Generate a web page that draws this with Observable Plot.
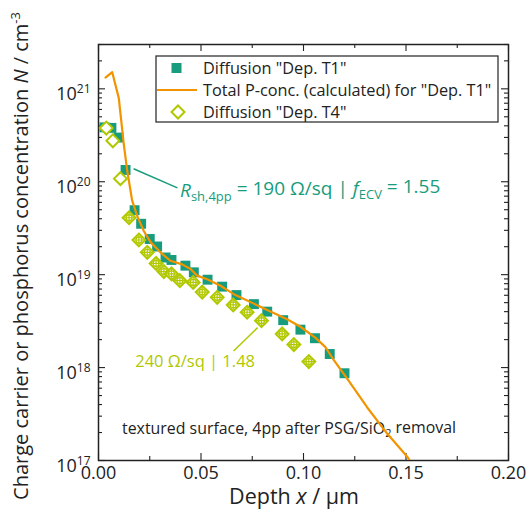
<!DOCTYPE html>
<html><head><meta charset="utf-8">
<script src="https://cdn.jsdelivr.net/npm/d3@7"></script>
<script src="https://cdn.jsdelivr.net/npm/@observablehq/plot@0.6"></script>
<style>body{margin:0;background:#fff}</style>
</head><body><div id="chart"></div>
<script>
// Diffusion "Dep. T1" (squares)
const depthT1 = [0.0029,0.0063,0.0098,0.0132,0.0176,0.0208,0.0250,0.0286,0.0327,0.0356,0.0424,0.0465,0.0532,0.0603,0.0673,0.0758,0.0823,0.0901,0.0985,0.1056,0.1128,0.1200];
const concT1  = [3.85e20,3.80e20,2.99e20,1.34e20,4.94e19,3.53e19,2.42e19,2.01e19,1.53e19,1.44e19,1.25e19,1.06e19,8.83e18,7.43e18,6.03e18,4.82e18,4.00e18,3.24e18,2.56e18,2.07e18,1.40e18,8.69e17];
// Diffusion "Dep. T4" (diamonds)
const depthT4 = [0.0038,0.0070,0.0107,0.0149,0.0197,0.0238,0.0281,0.0319,0.0356,0.0397,0.0462,0.0506,0.0579,0.0657,0.0725,0.0795,0.0896,0.0953,0.1026];
const concT4  = [3.78e20,2.76e20,1.08e20,4.10e19,2.36e19,1.74e19,1.32e19,1.08e19,1.02e19,8.61e18,8.26e18,6.49e18,5.70e18,4.72e18,3.94e18,3.20e18,2.30e18,1.77e18,1.16e18];
// Total P-conc. (calculated) for "Dep. T1"
const depthCalc = [0.0034,0.0067,0.0099,0.0123,0.0140,0.0164,0.0189,0.0221,0.0254,0.0302,0.0351,0.0408,0.0449,0.0481,0.0530,0.0595,0.0660,0.0823,0.0920,0.0985,0.1059,0.1107,0.1148,0.1213,0.1311,0.1408,0.1506,0.1530];
const concCalc  = [1.32e21,1.51e21,7.94e20,2.57e20,1.32e20,6.31e19,4.27e19,2.95e19,2.24e19,1.74e19,1.41e19,1.29e19,1.15e19,9.77e18,8.91e18,7.59e18,6.17e18,4.17e18,3.31e18,2.75e18,2.09e18,1.66e18,1.20e18,7.59e17,3.72e17,1.95e17,1.10e17,9.1e16];

const xTicks = [0, 0.05, 0.10, 0.15, 0.20];
const xMinor = [0.025, 0.075, 0.125, 0.175];
const yTicks = [1e17, 1e18, 1e19, 1e20, 1e21];
const yMinor = [];
for (let e = 17; e <= 21; e++) for (let m = 2; m <= 9; m++) { const v = m * 10 ** e; if (v <= 3e21) yMinor.push(v); }

const legendLabels = ['Diffusion "Dep. T1"', 'Total P-conc. (calculated) for "Dep. T1"', 'Diffusion "Dep. T4"'];
const noteLinks = [
  {x1: 0.0171, y1: 1.38e20, x2: 0.0385, y2: 8.6e19, c: "green"},
  {x1: 0.0776, y1: 2.69e18, x2: 0.0659, y2: 1.51e18, c: "lime"}
];

const GREEN = "#179c7d", ORANGE = "#f29400", LIME = "#b1c800", INK = "#222";
const W = 530, H = 511, ML = 98, MR = 22, MT = 44, MB = 51;
const FW = W - ML - MR, FH = H - MT - MB;
const MAJ = 7, MIN = 4;

const T1 = depthT1.map((x, i) => ({x, y: concT1[i]}));
const T4 = depthT4.map((x, i) => ({x, y: concT4[i], i}));
const CALC = depthCalc.map((x, i) => ({x, y: concCalc[i]}));

const tickStyle = {stroke: INK, strokeWidth: 1.1};
const plot = Plot.plot({
  width: W, height: H,
  marginLeft: ML, marginRight: MR, marginTop: MT, marginBottom: MB,
  style: {fontFamily: "'Open Sans', sans-serif", fontSize: "18px", background: "white", color: INK},
  x: {domain: [0, 0.2]},
  y: {type: "log", domain: [1e17, 3e21]},
  marks: [
    // inward ticks on all four sides
    Plot.ruleX(xTicks, {x: d => d, insetTop: FH - MAJ, ...tickStyle}),
    Plot.ruleX(xTicks, {x: d => d, insetBottom: FH - MAJ, ...tickStyle}),
    Plot.ruleX(xMinor, {x: d => d, insetTop: FH - MIN, ...tickStyle}),
    Plot.ruleX(xMinor, {x: d => d, insetBottom: FH - MIN, ...tickStyle}),
    Plot.ruleY(yTicks, {y: d => d, insetRight: FW - MAJ, ...tickStyle}),
    Plot.ruleY(yTicks, {y: d => d, insetLeft: FW - MAJ, ...tickStyle}),
    Plot.ruleY(yMinor, {y: d => d, insetRight: FW - MIN, ...tickStyle}),
    Plot.ruleY(yMinor, {y: d => d, insetLeft: FW - MIN, ...tickStyle}),
    Plot.axisX({ticks: xTicks, anchor: "bottom", tickSize: 0, tickPadding: 6, tickFormat: d3.format(".2f"), fontSize: 18, label: null}),
    Plot.axisY({ticks: yTicks, anchor: "left", tickSize: 0, tickPadding: 8, tickFormat: d => String(Math.round(Math.log10(d))), fontSize: 18, label: null}),
    Plot.frame({stroke: INK, strokeWidth: 1.5}),
    Plot.link(noteLinks, {x1: "x1", y1: "y1", x2: "x2", y2: "y2", stroke: d => d.c === "green" ? GREEN : LIME, strokeWidth: 1.5}),
    Plot.dot(T1, {x: "x", y: "y", symbol: "square", fill: GREEN, r: 5.6}),
    Plot.line(CALC, {x: "x", y: "y", stroke: ORANGE, strokeWidth: 2.2, clip: true}),
    Plot.dot(T4, {x: "x", y: "y", symbol: "diamond2", stroke: LIME, fill: "white", strokeWidth: 2, r: 5.8}),
    Plot.dot(T4.filter(d => d.i >= 3), {x: "x", y: "y", symbol: "circle", stroke: LIME, strokeWidth: 1.3, r: 3}),
    Plot.dot(T4.filter(d => d.i >= 3), {x: "x", y: "y", symbol: "plus", stroke: LIME, strokeWidth: 1.2, r: 3.6})
  ]
});
document.getElementById("chart").append(plot);

const svg = d3.select(plot);
const sx = plot.scale("x"), sy = plot.scale("y");

// y tick labels as 10^n
svg.selectAll('g[aria-label="y-axis tick label"] text').each(function () {
  const t = d3.select(this); const e = t.text();
  t.text("10").attr("dy", "0.3em");
  t.append("tspan").attr("dy", "-0.55em").attr("font-size", "12px").text(e);
});

// text behind the data
const under = svg.insert("g", "g").attr("font-family", "'Open Sans', sans-serif").attr("fill", INK).attr("text-anchor", "start");
const ts = under.append("text").attr("x", sx.apply(0.0117)).attr("y", sy.apply(1.9e17)).attr("font-size", 15.9);
ts.append("tspan").text("textured surface, 4pp after PSG/SiO");
ts.append("tspan").attr("font-size", 11).attr("dy", "0.3em").text("2");
ts.append("tspan").attr("dy", "-0.3em").text(" removal");

const g = svg.append("g").attr("font-family", "'Open Sans', sans-serif").attr("text-anchor", "start");

// axis titles
const yl = g.append("text").attr("transform", "translate(28,256) rotate(-90)").attr("text-anchor", "middle").attr("font-size", 20).attr("fill", INK);
yl.append("tspan").text("Charge carrier or phosphorus concentration ");
yl.append("tspan").attr("font-style", "italic").text("N");
yl.append("tspan").text(" / cm");
yl.append("tspan").attr("font-size", 13).attr("dy", "-0.6em").text("-3");

const xl = g.append("text").attr("x", 294).attr("y", 504).attr("text-anchor", "middle").attr("font-size", 21.5).attr("fill", INK);
xl.append("tspan").text("Depth ");
xl.append("tspan").attr("font-style", "italic").text("x");
xl.append("tspan").text(" / µm");

// annotations
const a1 = g.append("text").attr("x", sx.apply(0.04)).attr("y", sy.apply(6.8e19)).attr("font-size", 19).attr("fill", GREEN);
a1.append("tspan").attr("font-style", "italic").text("R");
a1.append("tspan").attr("font-size", 13).attr("dy", "0.3em").text("sh,4pp");
a1.append("tspan").attr("dy", "-0.3em").text(" = 190 Ω/sq | ");
a1.append("tspan").attr("font-style", "italic").text("f");
a1.append("tspan").attr("font-size", 13).attr("dy", "0.3em").text("ECV");
a1.append("tspan").attr("dy", "-0.3em").text(" = 1.55");

g.append("text").attr("x", sx.apply(0.0766)).attr("y", sy.apply(1e18)).attr("text-anchor", "end").attr("font-size", 16.5).attr("fill", LIME).text("240 Ω/sq | 1.48");

// legend
const lg = g.append("g").attr("font-size", 16.3).attr("fill", INK);
lg.append("rect").attr("x", 156).attr("y", 56).attr("width", 342).attr("height", 66).attr("fill", "white").attr("stroke", "#333").attr("stroke-width", 1.3);
const rows = [68, 90, 112];
lg.append("rect").attr("x", 171.5).attr("y", rows[0] - 5).attr("width", 10).attr("height", 10).attr("fill", GREEN);
lg.append("line").attr("x1", 157).attr("x2", 197).attr("y1", rows[1]).attr("y2", rows[1]).attr("stroke", ORANGE).attr("stroke-width", 2.2);
lg.append("path").attr("d", `M178,${rows[2]-6.5}L184.5,${rows[2]}L178,${rows[2]+6.5}L171.5,${rows[2]}Z`).attr("fill", "white").attr("stroke", LIME).attr("stroke-width", 2);
legendLabels.forEach((s, i) => lg.append("text").attr("x", 203).attr("y", rows[i]).attr("dy", "0.36em").text(s));
</script></body></html>
